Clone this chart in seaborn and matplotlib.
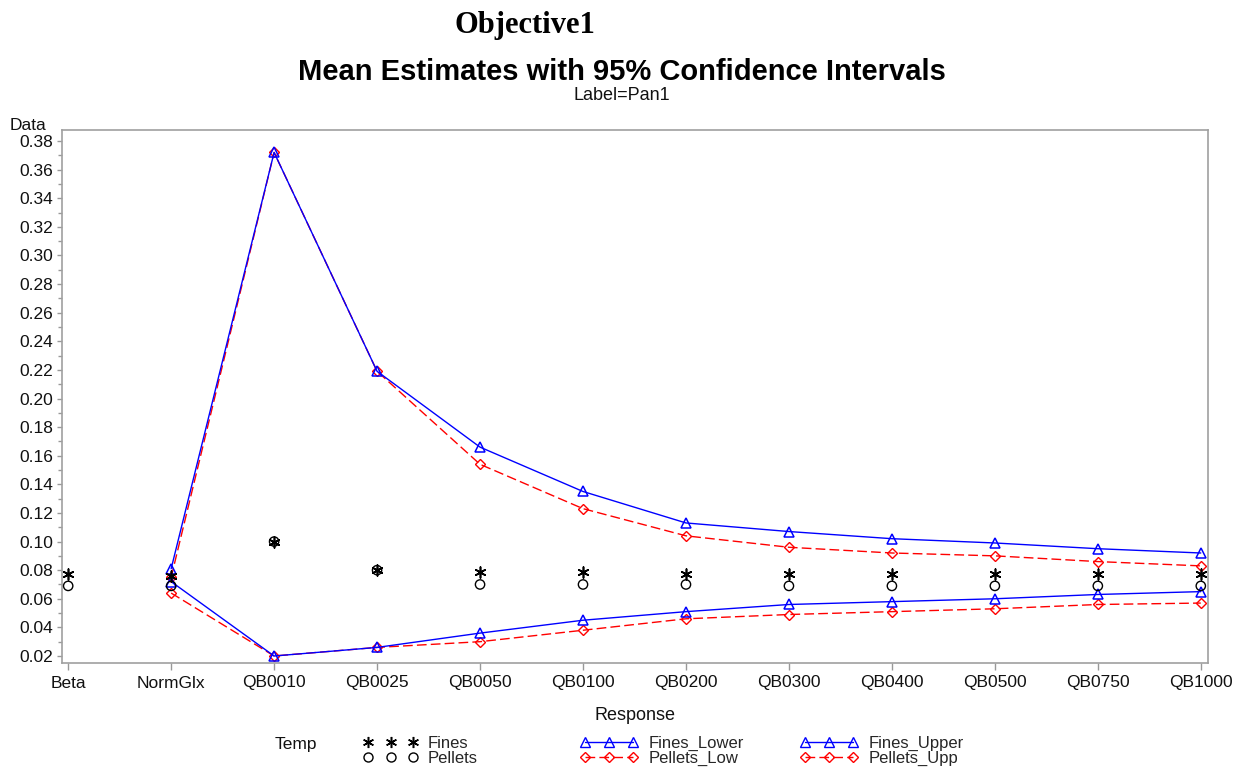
import numpy as np
import pandas as pd
import matplotlib
matplotlib.use("Agg")
import matplotlib.pyplot as plt
from matplotlib.lines import Line2D
from matplotlib.ticker import MultipleLocator, FormatStrFormatter
import seaborn as sns

sns.set_style("white")
plt.rcParams['font.family'] = ['Liberation Sans', 'DejaVu Sans']

categories = ["Beta", "NormGlx", "QB0010", "QB0025", "QB0050", "QB0100",
              "QB0200", "QB0300", "QB0400", "QB0500", "QB0750", "QB1000"]
fines_mean = [0.077, 0.076, 0.100, 0.080, 0.079, 0.079, 0.077, 0.077, 0.077, 0.077, 0.077, 0.077]
pellets_mean = [0.069, 0.069, 0.100, 0.080, 0.070, 0.070, 0.070, 0.069, 0.069, 0.069, 0.069, 0.069]
fines_lower = [np.nan, 0.072, 0.020, 0.026, 0.036, 0.045, 0.051, 0.056, 0.058, 0.060, 0.063, 0.065]
fines_upper = [np.nan, 0.081, 0.372, 0.219, 0.166, 0.135, 0.113, 0.107, 0.102, 0.099, 0.095, 0.092]
pellets_low = [np.nan, 0.064, 0.020, 0.026, 0.030, 0.038, 0.046, 0.049, 0.051, 0.053, 0.056, 0.057]
pellets_upp = [np.nan, 0.075, 0.372, 0.219, 0.154, 0.123, 0.104, 0.096, 0.092, 0.090, 0.086, 0.083]
y_ticks = [0.02, 0.04, 0.06, 0.08, 0.10, 0.12, 0.14, 0.16, 0.18, 0.20,
           0.22, 0.24, 0.26, 0.28, 0.30, 0.32, 0.34, 0.36, 0.38]

W, H = 1254, 770
fig = plt.figure(figsize=(W / 100, H / 100), dpi=100)
ax = fig.add_axes([62 / W, 1 - 663 / H, (1208 - 62) / W, (663 - 130) / H])

xpos = np.arange(len(categories))
BLUE = "#0000FF"
RED = "#FF0000"
dash = (0, (7, 3))

sns.lineplot(x=xpos, y=pellets_upp, ax=ax, color=RED, linewidth=1, linestyle=dash,
             marker="D", markersize=5.5, markerfacecolor="none", markeredgecolor=RED,
             markeredgewidth=1, estimator=None)
sns.lineplot(x=xpos, y=pellets_low, ax=ax, color=RED, linewidth=1, linestyle=dash,
             marker="D", markersize=5.5, markerfacecolor="none", markeredgecolor=RED,
             markeredgewidth=1, estimator=None)
sns.lineplot(x=xpos, y=fines_upper, ax=ax, color=BLUE, linewidth=1,
             marker="^", markersize=7, markerfacecolor="none", markeredgecolor=BLUE,
             markeredgewidth=1.1, estimator=None)
sns.lineplot(x=xpos, y=fines_lower, ax=ax, color=BLUE, linewidth=1,
             marker="^", markersize=7, markerfacecolor="none", markeredgecolor=BLUE,
             markeredgewidth=1.1, estimator=None)

sns.scatterplot(x=xpos, y=pellets_mean, ax=ax, marker="o", s=45,
                facecolor="none", edgecolor="black", linewidth=1, zorder=5)
sns.scatterplot(x=xpos, y=fines_mean, ax=ax, marker=(6, 2, 0), s=60,
                color="black", linewidth=1.2, zorder=5)

ax.set_xlim(-0.06, 11.07)
ax.set_ylim(0.0151, 0.3877)
ax.set_xticks(xpos)
ax.set_xticklabels(categories)
ax.set_yticks(y_ticks)
ax.yaxis.set_major_formatter(FormatStrFormatter("%.2f"))
ax.yaxis.set_minor_locator(MultipleLocator(0.01))
ax.tick_params(axis="x", which="major", direction="out", length=5, width=1,
               color="#999999", labelsize=12.5, labelcolor="#111111", pad=4, bottom=True)
ax.tick_params(axis="y", which="major", direction="out", length=3.5, width=1,
               color="#999999", labelsize=12.5, labelcolor="#111111", pad=3, left=True)
ax.tick_params(axis="y", which="minor", direction="out", length=3, width=1,
               color="#999999", left=True)
for sp in ax.spines.values():
    sp.set_color("#A0A0A0")
    sp.set_linewidth(1.2)
ax.set_xlabel("")
ax.set_ylabel("")

fig.text(10 / W, 1 - 125 / H, "Data", fontsize=12.5, ha="left", va="center", color="#111111")
fig.text(635 / W, 1 - 715 / H, "Response", fontsize=13, ha="center", va="center", color="#111111")
fig.text(525 / W, 1 - 25 / H, "Objective1", fontsize=22, fontweight="bold",
         family="Liberation Serif", ha="center", va="center", color="black")
fig.text(622 / W, 1 - 72 / H, "Mean Estimates with 95% Confidence Intervals",
         fontsize=21, fontweight="bold", ha="center", va="center", color="black")
fig.text(622 / W, 1 - 95 / H, "Label=Pan1", fontsize=13, ha="center", va="center", color="#111111")
fig.text(275 / W, 1 - 745 / H, "Temp", fontsize=12.5, ha="left", va="center", color="#111111")

h_fines = Line2D([], [], linestyle="none", marker=(6, 2, 0), markersize=8,
                 color="black", markeredgewidth=1.1)
h_pel = Line2D([], [], linestyle="none", marker="o", markersize=6.5,
               markerfacecolor="none", markeredgecolor="black", markeredgewidth=1)
h_fl = Line2D([], [], color=BLUE, linewidth=1, marker="^", markersize=6.5,
              markerfacecolor="none", markeredgecolor=BLUE)
h_pl = Line2D([], [], color=RED, linewidth=1, linestyle=dash, marker="D", markersize=5,
              markerfacecolor="none", markeredgecolor=RED)

common = dict(frameon=False, numpoints=3, fontsize=12, borderpad=0, borderaxespad=0,
              labelspacing=0.0, loc="upper left", handletextpad=0.6)
leg1 = fig.legend([h_fines, h_pel], ["Fines", "Pellets"], handlelength=3.3,
                  bbox_to_anchor=(363 / W, 1 - 736 / H), **common)
leg2 = fig.legend([h_fl, h_pl], ["Fines_Lower", "Pellets_Low"], handlelength=3.5,
                  bbox_to_anchor=(580 / W, 1 - 736 / H), **common)
leg3 = fig.legend([h_fl, h_pl], ["Fines_Upper", "Pellets_Upp"], handlelength=3.5,
                  bbox_to_anchor=(800 / W, 1 - 736 / H), **common)

fig.savefig("out.png", dpi=100)
